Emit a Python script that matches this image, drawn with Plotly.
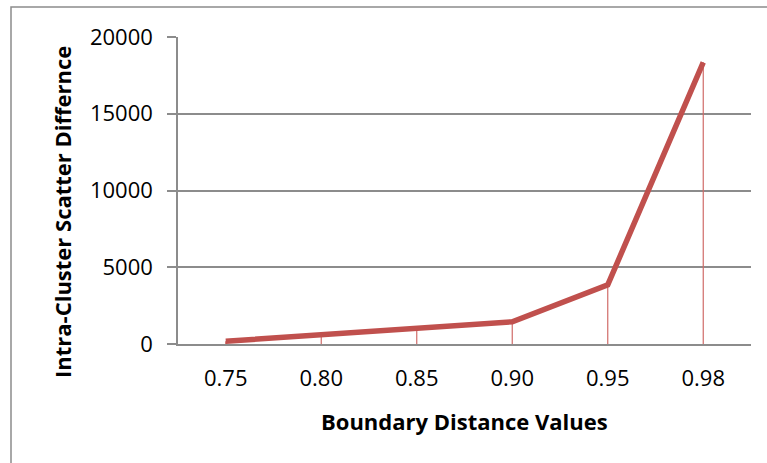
import plotly.graph_objects as go

categories = ["0.75", "0.80", "0.85", "0.90", "0.95", "0.98"]
values = [180, 600, 950, 1450, 3850, 18350]
y_ticks = [0, 5000, 10000, 15000, 20000]
y_tick_labels = ["0", "5000", "10000", "15000", "20000"]

line_color = "#C0504D"
grid_color = "#8C8C8C"

# drop lines built from the data
drop_x, drop_y = [], []
for c, v in zip(categories, values):
    drop_x += [c, c, None]
    drop_y += [0, v, None]

fig = go.Figure()
fig.add_trace(go.Scatter(x=drop_x, y=drop_y, mode="lines",
                         line=dict(color="#D06B68", width=1.2),
                         hoverinfo="skip", showlegend=False))
fig.add_trace(go.Scatter(x=categories, y=values, mode="lines",
                         line=dict(color=line_color, width=5.5),
                         showlegend=False))

W, H = 767, 463
L, R, T, B = 178, 16, 37, 119
pw, ph = W - L - R, H - T - B

def px_x(x):
    return (x - L) / pw

def px_y(y):
    return (H - B - y) / ph

fig.update_layout(
    width=W, height=H,
    margin=dict(l=L, r=R, t=T, b=B),
    paper_bgcolor="white", plot_bgcolor="white",
    font=dict(family="Open Sans", size=22, color="#000000"),
    xaxis=dict(type="category", range=[-0.5, 5.5], showgrid=False,
               showline=True, linecolor=grid_color, linewidth=1.5,
               ticks="", ticklabelstandoff=14, zeroline=False,
               tickfont=dict(size=22)),
    yaxis=dict(range=[0, 20000], tickvals=y_ticks, ticktext=y_tick_labels,
               showgrid=True, gridcolor=grid_color, gridwidth=1.5,
               showline=True, linecolor=grid_color, linewidth=1.5,
               ticks="outside", ticklen=9, tickcolor=grid_color, tickwidth=1.5,
               ticklabelstandoff=10, zeroline=False,
               tickfont=dict(size=22)),
    shapes=[dict(type="rect", xref="paper", yref="paper",
                 x0=px_x(11), x1=px_x(W + 20), y0=px_y(H + 20), y1=px_y(7),
                 line=dict(color=grid_color, width=1.5), layer="below")],
    annotations=[
        dict(text="<b>Boundary Distance Values</b>", xref="paper", yref="paper",
             x=0.5, y=px_y(421), xanchor="center", yanchor="middle",
             showarrow=False, font=dict(size=22)),
        dict(text="<b>Intra-Cluster Scatter Differnce</b>", xref="paper", yref="paper",
             x=px_x(62), y=px_y(212), xanchor="center", yanchor="middle",
             textangle=-90, showarrow=False, font=dict(size=22)),
    ],
)

fig.write_html("out.html")
